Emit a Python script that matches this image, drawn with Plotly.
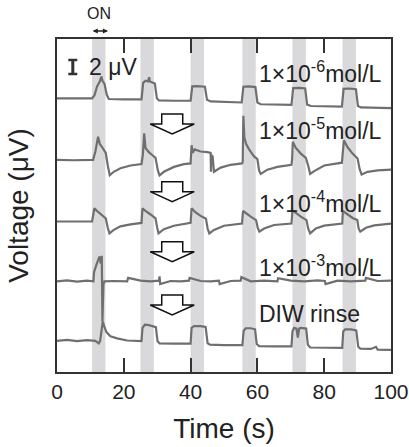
import plotly.graph_objects as go

# Light-on intervals (s)
on_start = [10.5, 25.0, 40.0, 55.5, 70.5, 85.5]
on_end = [14.5, 29.0, 44.0, 59.5, 74.5, 89.5]

# Response traces: time (s) and voltage (uV, stacked with offsets)
t_1e6 = [0, 5, 10.5, 11.2, 12.0, 12.8, 13.3, 13.6, 14.2, 14.9, 15.5, 20, 25.3, 25.8, 26.5, 27.2,
         27.6, 27.8, 28.5, 29.3, 29.9, 30.5, 35, 40.0, 40.5, 42, 44.3, 44.9, 46, 50, 55.3, 55.8,
         57.5, 59.4, 60.0, 61, 65, 70.2, 70.7, 72.5, 74.3, 74.9, 76, 80, 85.3, 85.8, 87.5, 89.5,
         90.1, 91, 95, 100]
v_1e6 = [39.1, 39.15, 39.1, 39.5, 40.8, 41.5, 42.2, 41.6, 41.2, 39.6, 39.0, 38.95, 38.95, 41.3,
         41.6, 41.5, 42.1, 41.5, 41.4, 41.2, 39.1, 38.8, 38.75, 38.75, 40.8, 40.85, 40.75, 38.9,
         38.65, 38.6, 38.5, 40.75, 40.8, 40.7, 38.5, 38.25, 38.2, 38.15, 40.55, 40.6, 40.5, 38.2,
         38.0, 37.95, 37.9, 40.45, 40.5, 40.4, 38.0, 37.8, 37.75, 37.7]

t_1e5 = [0, 5, 10.8, 11.5, 12.3, 12.8, 13.8, 14.6, 15.2, 15.8, 17, 19, 22, 25.3, 25.7, 26.1,
         26.5, 27.5, 28.5, 29.5, 30.2, 30.7, 32, 35, 38, 40.0, 40.3, 40.6, 41.2, 43, 45, 46.0,
         46.1, 46.2, 46.6, 47.0, 49, 52, 55.4, 55.6, 55.8, 56.1, 56.6, 57.5, 59, 60.0, 60.5, 61,
         63, 66, 70.2, 70.4, 70.6, 71.5, 73, 74.5, 75.2, 75.8, 77, 80, 85.3, 85.5, 85.9, 87, 88.5,
         90, 90.6, 91.2, 93, 96, 100]
v_1e5 = [30.3, 30.25, 30.3, 31.5, 33.6, 32.6, 31.9, 31.3, 29.5, 28.1, 28.6, 29.1, 29.5, 29.7,
         31.0, 34.1, 32.0, 31.4, 31.0, 30.6, 28.8, 28.1, 28.6, 29.3, 29.7, 29.8, 32.4, 31.3, 31.8,
         31.5, 31.4, 31.3, 28.6, 31.0, 30.8, 28.6, 29.2, 29.6, 29.8, 30.0, 36.6, 33.5, 32.6, 31.8,
         30.8, 30.4, 28.8, 28.3, 28.9, 29.3, 29.6, 30.5, 32.9, 32.0, 31.2, 30.6, 29.5, 28.3, 28.7,
         29.5, 29.9, 31.0, 33.1, 32.1, 31.2, 30.5, 29.0, 28.2, 28.6, 28.8, 28.9]

t_1e4 = [0, 5, 10.5, 10.9, 11.2, 12, 13.5, 14.6, 15.2, 15.7, 17, 19, 22, 25.3, 25.6, 26.5, 28,
         29.5, 30.0, 30.4, 32, 35, 40.0, 40.3, 41.5, 43, 44.6, 45.1, 45.6, 47, 50, 55.4, 55.7,
         56.5, 58, 59.6, 60.1, 60.6, 62, 65, 70.2, 70.5, 71.5, 73, 74.7, 75.2, 75.8, 77.5, 80,
         85.4, 85.6, 86.8, 88.5, 89.9, 90.3, 90.8, 92.5, 95, 100]
v_1e4 = [21.5, 21.45, 21.5, 22.6, 23.4, 23.0, 22.4, 21.95, 20.6, 19.8, 20.3, 20.8, 21.1, 21.3,
         23.4, 23.0, 22.5, 21.95, 20.6, 19.8, 20.4, 20.9, 21.3, 23.4, 22.8, 22.3, 21.9, 20.5,
         19.8, 20.3, 20.9, 21.2, 23.0, 22.7, 22.2, 21.7, 20.6, 20.05, 20.5, 21.0, 21.2, 23.1,
         22.7, 22.2, 21.7, 20.5, 19.8, 20.5, 20.9, 21.2, 23.0, 22.6, 22.0, 21.7, 20.5, 20.05,
         20.6, 20.95, 21.2]

t_1e3 = [0, 3, 6, 9, 10.9, 11.1, 11.8, 12.4, 12.7, 13.1, 13.4, 13.6, 13.9, 14.2, 17, 21, 21.3,
         25, 28, 30.5, 30.7, 30.9, 34, 37, 39.5, 39.7, 43, 46, 48.5, 48.7, 52, 55.0, 55.2, 58,
         62, 66, 66.2, 70, 74, 78, 80.2, 80.4, 84, 88, 92.3, 92.5, 96, 100]
v_1e3 = [12.95, 13.1, 12.9, 13.05, 12.95, 14.3, 15.3, 16.0, 16.5, 15.5, 16.6, 7.2, 12.5, 12.95,
         13.0, 12.95, 13.45, 13.05, 12.95, 13.05, 13.65, 12.55, 13.0, 12.95, 13.05, 13.45, 13.0,
         12.95, 13.05, 12.55, 13.0, 13.05, 13.55, 12.95, 13.05, 12.95, 13.4, 13.05, 12.95, 13.1,
         13.0, 12.55, 13.05, 12.95, 13.05, 13.45, 13.0, 13.05]

t_diw = [0, 3, 6, 9, 11.5, 12.5, 12.9, 13.3, 13.7, 14.1, 14.8, 16, 18, 21, 25.3, 25.6, 26.3,
         27.5, 29.0, 29.6, 30.1, 30.7, 35, 40.0, 40.3, 41, 43, 44.5, 45.1, 45.8, 50, 55.5, 55.9,
         56.5, 58, 59.3, 59.8, 60.5, 65, 70.2, 70.5, 71.0, 71.7, 72.1, 72.5, 73, 74.6, 75.1, 75.8,
         80, 85.4, 85.7, 86.3, 88, 89.6, 90.2, 90.8, 94, 95.5, 96, 100]
v_diw = [4.45, 4.6, 4.4, 4.55, 4.45, 4.1, 4.4, 5.5, 7.2, 6.6, 5.7, 5.1, 4.8, 4.5, 4.4, 6.3,
         6.75, 6.7, 6.55, 6.4, 4.4, 4.1, 4.05, 4.05, 6.3, 6.55, 6.55, 6.45, 4.1, 3.9, 3.85, 3.85,
         5.9, 6.25, 6.25, 6.1, 4.0, 3.7, 3.65, 3.65, 5.8, 6.3, 6.2, 4.9, 6.2, 6.3, 6.2, 3.9, 3.5,
         3.45, 3.45, 5.8, 6.1, 6.1, 5.95, 3.6, 3.35, 3.3, 3.6, 3.2, 3.15]

series = [(t_1e6, v_1e6), (t_1e5, v_1e5), (t_1e4, v_1e4), (t_1e3, v_1e3), (t_diw, v_diw)]
labels = ["1×10<sup>-6</sup>mol/L", "1×10<sup>-5</sup>mol/L", "1×10<sup>-4</sup>mol/L",
          "1×10<sup>-3</sup>mol/L", "DIW rinse"]
label_y = [42.86, 34.7, 24.25, 15.2, 8.29]

# Scale bar length (uV)
scale_uv = 2

FONT = "Liberation Sans, Arial, sans-serif"
INK = "#333333"
TXT = "#222222"
TRACE = "#6f6f6f"

Y_MAX = 47.57  # 7 px per uV over the plot height
PX_X = 3.34    # px per second
PX_Y = 7.0     # px per uV

fig = go.Figure()
for t, v in series:
    fig.add_trace(go.Scatter(x=t, y=v, mode="lines",
                             line=dict(color=TRACE, width=2.2), showlegend=False))

shapes = []
for a, b in zip(on_start, on_end):
    shapes.append(dict(type="rect", xref="x", yref="paper", x0=a, x1=b, y0=0, y1=1,
                       fillcolor="#d9d9db", line=dict(width=0), layer="below"))

# Hollow down arrows between traces (top position in uV)
arrow_tops = [36.86, 27.19, 18.61, 11.0]
cx = 34.5
for top in arrow_tops:
    hw, sw = 22 / PX_X, 10.5 / PX_X
    stem, head = 10 / PX_Y, 10 / PX_Y
    pts = [(cx - sw, top), (cx + sw, top), (cx + sw, top - stem), (cx + hw, top - stem),
           (cx, top - stem - head), (cx - hw, top - stem), (cx - sw, top - stem)]
    path = "M " + " L ".join(f"{x},{y}" for x, y in pts) + " Z"
    shapes.append(dict(type="path", xref="x", yref="y", path=path,
                       fillcolor="white", line=dict(color="#111111", width=1.5)))

# Scale bar ("I" shape)
bx, by = 4.73, 42.57
serif = 4.5 / PX_X
shapes.append(dict(type="line", xref="x", yref="y", x0=bx, x1=bx, y0=by, y1=by + scale_uv,
                   line=dict(color=INK, width=3)))
for yy in (by, by + scale_uv):
    shapes.append(dict(type="line", xref="x", yref="y", x0=bx - serif, x1=bx + serif,
                       y0=yy, y1=yy, line=dict(color=INK, width=2.5)))

annotations = []
for txt, yy in zip(labels, label_y):
    annotations.append(dict(x=59.9, y=yy, xref="x", yref="y", text=txt, showarrow=False,
                            xanchor="left", yanchor="middle",
                            font=dict(family=FONT, size=23, color=TXT)))
annotations.append(dict(x=8.9, y=by + scale_uv / 2, xref="x", yref="y",
                        text=f"{scale_uv} μV", showarrow=False, xanchor="left",
                        yanchor="middle", font=dict(family=FONT, size=23, color=TXT)))
annotations.append(dict(x=12.7, y=1.078, xref="x", yref="paper", text="ON", showarrow=False,
                        xanchor="center", yanchor="middle",
                        font=dict(family=FONT, size=16, color=TXT)))
# Double-headed arrow marking the on period
annotations.append(dict(x=15.3, y=1.024, xref="x", yref="paper", ax=10.2, ay=0,
                        axref="x", ayref="pixel", text="", showarrow=True,
                        arrowside="end+start", arrowhead=2, arrowsize=0.8, arrowwidth=1.3,
                        arrowcolor=TXT))

fig.update_layout(
    width=409, height=447,
    margin=dict(l=57, r=18, t=39, b=75),
    paper_bgcolor="white", plot_bgcolor="white",
    shapes=shapes, annotations=annotations,
    xaxis=dict(range=[0, 100], tickvals=[0, 20, 40, 60, 80, 100], ticks="inside",
               ticklen=14, tickwidth=1.5, tickcolor=INK, showline=True, linewidth=2,
               linecolor=INK, mirror="ticks", showgrid=False, zeroline=False,
               ticklabeloverflow="allow", automargin=False,
               tickfont=dict(family=FONT, size=21, color=TXT),
               title=dict(text="Time (s)", font=dict(family=FONT, size=28, color=TXT),
                          standoff=16)),
    yaxis=dict(range=[0, Y_MAX], showticklabels=False, ticks="", showline=True,
               linewidth=2, linecolor=INK, mirror=True, showgrid=False, zeroline=False,
               automargin=False,
               title=dict(text="Voltage (μV)",
                          font=dict(family=FONT, size=28, color=TXT), standoff=18)),
)

fig.write_html("out.html")
